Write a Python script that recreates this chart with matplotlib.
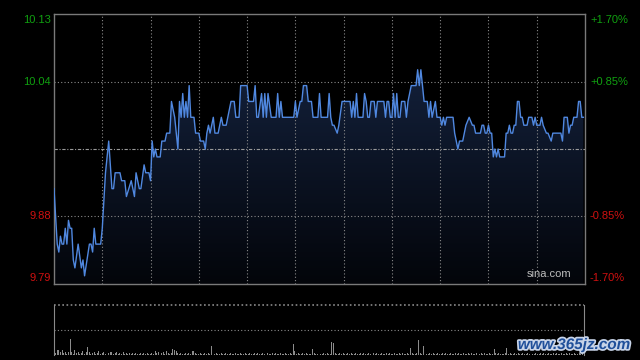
import numpy as np
import matplotlib.pyplot as plt
import matplotlib.patheffects as pe

plt.rcParams['font.family'] = ['Liberation Sans', 'DejaVu Sans']

# previous close and axis labels
prev_close = 9.96
left_labels = ['10.13', '10.04', '9.88', '9.79']
right_labels = ['+1.70%', '+0.85%', '-0.85%', '-1.70%']
label_pct = [0.017, 0.0085, -0.0085, -0.017]

# intraday price (minute index from open, price)
minutes = [0, 2, 3, 4, 5, 6, 7, 8, 9, 10, 11, 12, 13, 15, 17, 18, 19, 22, 23, 24,
           25, 26, 29, 30, 32, 34, 36, 37, 38, 41, 42, 44, 45, 48, 49, 50, 51, 53, 54, 56,
           57, 59, 60, 61, 62, 63, 64, 66, 67, 69, 70, 72, 73, 75, 77, 78, 79, 80, 81, 82,
           83, 84, 85, 87, 88, 90, 91, 93, 94, 95, 96, 97, 99, 100, 102, 104, 105, 107, 110, 112,
           113, 115, 116, 120, 121, 124, 125, 126, 127, 129, 130, 131, 132, 133, 135, 138, 139, 140, 141, 142,
           149, 150, 151, 153, 154, 155, 157, 158, 160, 161, 164, 165, 166, 170, 171, 172, 173, 174, 176, 177,
           179, 184, 185, 186, 187, 188, 189, 192, 193, 194, 195, 196, 197, 199, 200, 201, 205, 206, 207, 208,
           209, 210, 211, 212, 213, 214, 215, 216, 218, 219, 220, 222, 225, 226, 227, 228, 229, 230, 232, 233,
           234, 235, 237, 238, 240, 241, 242, 243, 244, 247, 248, 249, 251, 252, 254, 256, 258, 260, 261, 262,
           265, 266, 267, 268, 269, 270, 271, 272, 273, 274, 275, 276, 277, 280, 281, 282, 283, 284, 285, 286,
           287, 288, 289, 290, 291, 292, 294, 295, 297, 298, 299, 300, 302, 303, 304, 306, 307, 309, 310, 315,
           316, 317, 319, 320, 321, 322, 323, 325, 326, 327, 328, 329]
prices = [9.91, 9.84, 9.83, 9.85, 9.84, 9.84, 9.86, 9.84, 9.87, 9.86, 9.86, 9.82, 9.81, 9.84, 9.81, 9.82, 9.80, 9.84, 9.84, 9.83,
          9.86, 9.84, 9.84, 9.86, 9.93, 9.97, 9.91, 9.91, 9.93, 9.93, 9.92, 9.92, 9.90, 9.92, 9.91, 9.90, 9.93, 9.91, 9.91, 9.94,
          9.93, 9.93, 9.92, 9.97, 9.95, 9.96, 9.95, 9.95, 9.97, 9.97, 9.98, 9.98, 10.02, 10.00, 9.96, 10.02, 10.00, 10.03, 10.00, 10.02,
          10.00, 10.04, 10.00, 10.00, 9.98, 9.98, 9.97, 9.97, 9.96, 9.98, 9.99, 9.98, 10.00, 9.98, 9.98, 10.00, 9.99, 9.99, 10.02, 10.02,
          10.00, 10.00, 10.04, 10.04, 10.02, 10.02, 10.04, 10.00, 10.00, 10.03, 10.00, 10.03, 10.00, 10.03, 10.00, 10.00, 10.03, 10.00, 10.02, 10.00,
          10.00, 10.02, 10.00, 10.02, 10.02, 10.04, 10.04, 10.02, 10.02, 10.00, 10.00, 10.03, 10.00, 10.00, 10.03, 10.00, 9.99, 9.99, 9.98, 9.99,
          10.02, 10.02, 10.00, 10.02, 10.00, 10.03, 10.00, 10.00, 10.03, 10.02, 10.00, 10.00, 10.02, 10.02, 10.00, 10.02, 10.02, 10.00, 10.02, 10.02,
          10.00, 10.00, 10.03, 10.00, 10.03, 10.00, 10.00, 10.02, 10.02, 10.00, 10.02, 10.04, 10.04, 10.06, 10.04, 10.06, 10.04, 10.02, 10.02, 10.00,
          10.02, 10.00, 10.02, 10.00, 10.00, 9.99, 10.00, 9.99, 10.00, 10.00, 10.00, 9.98, 9.96, 9.97, 9.97, 9.99, 10.00, 9.99, 9.99, 9.98,
          9.98, 9.99, 9.99, 9.98, 9.98, 9.99, 9.98, 9.98, 9.95, 9.96, 9.95, 9.96, 9.95, 9.95, 9.98, 9.98, 9.99, 9.98, 9.98, 9.99,
          9.99, 10.02, 10.02, 10.00, 10.00, 9.99, 9.99, 10.00, 10.00, 9.99, 10.00, 9.99, 9.99, 10.00, 9.99, 9.98, 9.98, 9.97, 9.98, 9.98,
          9.97, 10.00, 10.00, 9.98, 9.99, 9.99, 10.00, 10.00, 10.02, 10.02, 10.00, 10.00]

# volume per minute (panel units)
volume = [17, 2, 5, 5, 3, 5, 2, 3, 1, 3, 16, 3, 1, 5, 2, 3, 1, 2, 4, 1, 3, 8, 3, 1, 2, 3, 1, 2, 4, 1,
          2, 3, 1, 4, 2, 3, 3, 1, 2, 3, 1, 2, 1, 3, 1, 2, 1, 2, 1, 2, 1, 2, 1, 1, 2, 1, 2, 1, 2, 1,
          1, 2, 1, 4, 2, 3, 1, 2, 3, 1, 4, 2, 1, 2, 6, 5, 4, 2, 1, 2, 1, 1, 2, 1, 2, 1, 4, 4, 2, 1,
          1, 2, 1, 1, 2, 1, 2, 1, 9, 2, 1, 2, 1, 1, 2, 1, 1, 2, 1, 1, 2, 1, 1, 2, 1, 1, 2, 1, 1, 2,
          1, 1, 2, 1, 1, 2, 1, 2, 1, 1, 2, 1, 1, 2, 1, 1, 2, 1, 2, 1, 1, 2, 1, 1, 2, 1, 1, 2, 1, 11,
          4, 1, 2, 1, 1, 2, 1, 2, 1, 1, 1, 6, 2, 1, 1, 2, 1, 1, 2, 1, 2, 1, 1, 13, 12, 2, 1, 1, 2, 1,
          2, 1, 1, 2, 1, 2, 1, 1, 2, 1, 1, 2, 1, 2, 1, 1, 2, 1, 1, 2, 1, 2, 1, 1, 2, 1, 1, 2, 1, 2,
          1, 1, 2, 1, 1, 2, 1, 2, 1, 1, 2, 1, 7, 2, 1, 1, 2, 15, 2, 1, 9, 2, 1, 1, 2, 1, 2, 1, 1, 2,
          1, 1, 2, 1, 2, 1, 1, 2, 1, 1, 2, 1, 2, 1, 1, 2, 1, 1, 2, 1, 2, 1, 1, 2, 1, 1, 2, 1, 2, 1,
          1, 2, 1, 1, 6, 2, 1, 2, 1, 1, 1, 2, 7, 1, 2, 1, 1, 2, 1, 2, 1, 1, 2, 1, 1, 2, 1, 2, 1, 1,
          2, 1, 1, 2, 1, 2, 1, 1, 2, 1, 1, 2, 1, 2, 1, 1, 2, 1, 1, 2, 1, 2, 1, 1, 2, 1, 1, 2, 1, 2, 1]

W, H = 640, 360
fig = plt.figure(figsize=(6.4, 3.6), dpi=100, facecolor='black')

ymin = prev_close * (1 - 0.0171)
ymax = prev_close * (1 + 0.0171)
ax = fig.add_axes([54 / W, 76 / H, 531 / W, 270 / H], facecolor='black')
ax.set_xlim(0, 330)
ax.set_ylim(ymin, ymax)

# gradient fill under the line
fill = ax.fill_between(minutes, prices, ymin, color='none', lw=0)
grad = np.linspace(0, 1, 256).reshape(-1, 1)
cmap = plt.matplotlib.colors.LinearSegmentedColormap.from_list('g', ['#03050a', '#13203a'])
im = ax.imshow(grad, cmap=cmap, aspect='auto', origin='lower',
               extent=[0, 330, ymin, 10.06], zorder=1)
im.set_clip_path(fill.get_paths()[0], transform=ax.transData)

for t in range(30, 330, 30):
    ax.axvline(t, color='#8a8a8a', lw=0.8, ls=(0, (1, 2)), zorder=2)
for p in [0.0085, -0.0085]:
    ax.axhline(prev_close * (1 + p), color='#8a8a8a', lw=0.8, ls=(0, (1, 2)), zorder=2)
ax.axhline(prev_close, color='#9a9a9a', lw=0.8, ls=(0, (3, 1.5, 1, 1.5)), zorder=2)

ax.plot(minutes, prices, color='#5088e0', lw=1.0, zorder=3)

for s in ax.spines.values():
    s.set_color('#7a7a7a')
    s.set_linewidth(1)
ax.set_xticks([])
ax.set_yticks([])
ax.text(0.975, 0.02, 'sina.com', transform=ax.transAxes, ha='right', va='bottom',
        color='#bdbdbd', fontsize=8, zorder=4)

label_y = [20, 82, 216, 278]
for i in range(4):
    col = '#10a010' if label_pct[i] > 0 else '#d01010'
    fig.text(51 / W, 1 - label_y[i] / H, left_labels[i], ha='right', va='center',
             color=col, fontsize=8)
    fig.text(590 / W, 1 - label_y[i] / H, right_labels[i], ha='left', va='center',
             color=col, fontsize=8)

# volume panel
vx = fig.add_axes([54 / W, 5 / H, 530 / W, 50 / H], facecolor='black')
vx.bar(np.arange(len(volume)), volume, width=0.6, color='#8c8c8c', lw=0)
vx.set_xlim(0, 330)
vx.set_ylim(0, 50)
vx.axhline(25, color='#8a8a8a', lw=0.8, ls=(0, (1, 2)))
vx.axhline(50, color='#8a8a8a', lw=1.2, ls=(0, (1, 1.5)), clip_on=False)
for k in ['top', 'bottom']:
    vx.spines[k].set_visible(False)
for k in ['left', 'right']:
    vx.spines[k].set_color('#8a8a8a')
vx.set_xticks([])
vx.set_yticks([])

fig.text(574 / W, 1 - 345 / H, 'www.365jz.com', ha='center', va='center',
         color='#1f4f9a', fontsize=11, fontweight='bold', fontstyle='italic',
         path_effects=[pe.withStroke(linewidth=2.5, foreground='#c8d4e8')])

fig.savefig('out.png', dpi=100, facecolor='black')
